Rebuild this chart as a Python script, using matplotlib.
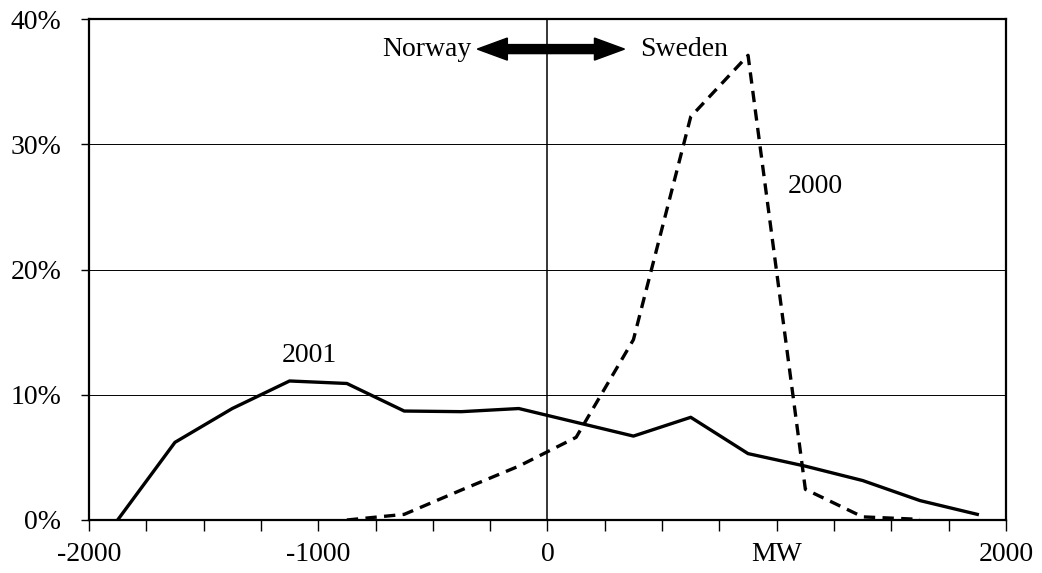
import matplotlib
matplotlib.use("Agg")
import matplotlib.pyplot as plt
from matplotlib.ticker import FixedLocator, FuncFormatter

plt.rcParams['font.family'] = ['Liberation Serif', 'DejaVu Serif']

# bin centres (MW), positive = flow towards Sweden
mw_2001 = [-1875, -1625, -1375, -1125, -875, -625, -375, -125,
           125, 375, 625, 875, 1125, 1375, 1625, 1875]
share_2001 = [0.0, 6.2, 8.9, 11.1, 10.9, 8.7, 8.65, 8.9,
              7.8, 6.7, 8.2, 5.3, 4.3, 3.15, 1.55, 0.45]

mw_2000 = [-875, -625, -375, -125, 125, 375, 625, 875, 1125, 1375, 1625]
share_2000 = [0.0, 0.45, 2.4, 4.3, 6.6, 14.4, 32.2, 37.1, 2.45, 0.25, 0.05]

major_x = [-2000, -1000, 0, 1000, 2000]
major_x_labels = ['-2000', '-1000', '0', 'MW', '2000']
y_ticks = [0, 10, 20, 30, 40]

fs = 20

fig = plt.figure(figsize=(10.42, 5.73), dpi=100)
ax = fig.add_axes([0.0854, 0.0925, 0.88, 0.8743])

for y in [10, 20, 30]:
    ax.axhline(y, color='black', lw=0.7, zorder=1)
ax.axvline(0, color='black', lw=1.1, zorder=1)

ax.plot(mw_2001, share_2001, color='black', lw=2.4, zorder=3)
ax.plot(mw_2000, share_2000, color='black', lw=2.4, ls=(0, (3.4, 2.2)), zorder=3)

ax.set_xlim(-2000, 2000)
ax.set_ylim(0, 40)

ax.xaxis.set_major_locator(FixedLocator(major_x))
ax.set_xticklabels(major_x_labels)
ax.xaxis.set_minor_locator(FixedLocator(list(range(-2000, 2001, 250))))
ax.set_yticks(y_ticks)
ax.yaxis.set_major_formatter(FuncFormatter(lambda v, p: '%d%%' % v))

ax.tick_params(axis='x', which='both', direction='out', length=8, width=1, pad=8, labelsize=fs)
ax.tick_params(axis='y', direction='out', length=6, width=1, pad=14, labelsize=fs)
for s in ax.spines.values():
    s.set_linewidth(1.6)

# Norway <-> Sweden arrow
ay = 37.6
ax.arrow(15, ay, -321, 0, width=0.72, head_width=1.76, head_length=131,
         length_includes_head=True, color='black', zorder=4)
ax.arrow(15, ay, 321, 0, width=0.72, head_width=1.76, head_length=131,
         length_includes_head=True, color='black', zorder=4)
ax.text(-330, ay, 'Norway', ha='right', va='center', fontsize=fs)
ax.text(405, ay, 'Sweden', ha='left', va='center', fontsize=fs)

ax.text(1170, 26.6, '2000', ha='center', va='center', fontsize=fs)
ax.text(-1040, 13.1, '2001', ha='center', va='center', fontsize=fs)

fig.savefig('out.png', dpi=100)
